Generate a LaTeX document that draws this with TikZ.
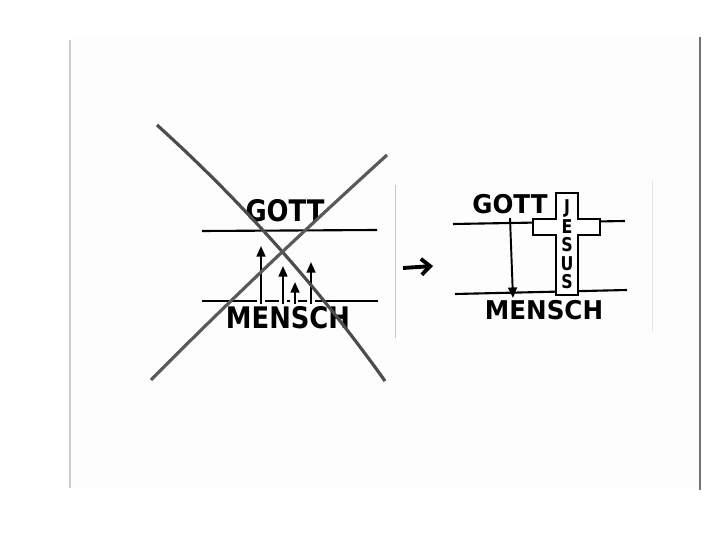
\documentclass[tikz,border=0pt]{standalone}
\usepackage{fontspec}
\setmainfont{DejaVu Sans}
\usetikzlibrary{arrows,arrows.meta}

\begin{document}
\begin{tikzpicture}[x=0.02cm,y=-0.02cm]
\tikzset{word/.style = {inner sep=0pt,font=\bfseries\fontsize{14.7pt}{14.7pt}\selectfont}}
\tikzset{wordr/.style = {inner sep=0pt,font=\bfseries\fontsize{14pt}{14pt}\selectfont}}
\tikzset{letter/.style = {inner sep=0pt,font=\bfseries\fontsize{9pt}{9pt}\selectfont}}
\tikzset{bar/.style = {line width=1.2pt}}
\tikzset{up/.style = {-{Triangle[length=6pt,width=5pt]},line width=1.1pt}}
\tikzset{edge/.style = {draw=black!22,line width=0.5pt}}
\useasboundingbox (0,0) rectangle (720,540);
\fill[white] (0,0) rectangle (720,540);
% page
\fill[black!0.6] (70,37) rectangle (700,488);
\draw[black!55,line width=0.8pt] (700,37) -- (700,490);
\draw[black!20,line width=0.6pt] (70,40) -- (70,488);
\draw[edge] (395,185) -- (395,338);
\draw[edge,draw=black!10] (652,180) -- (652,332);
% left picture
\node[word](gottl) at (285,211) {\scalebox{1}[1.15]{GOTT}};
\node[word](menschl) at (288,318) {\scalebox{1}[1.15]{MENSCH}};
\draw[bar] (202,231) -- (377,230);
\draw[bar] (202,301) -- (257,301);
\draw[bar] (265,301) -- (279,301);
\draw[bar] (287,301) -- (290,301);
\draw[bar] (298,301) -- (307,301);
\draw[bar] (315,301) -- (378,301);
\coordinate (b1) at (261,304);
\coordinate (t1) at (261,246);
\coordinate (b2) at (283,304);
\coordinate (t2) at (283,266);
\coordinate (b3) at (295,304);
\coordinate (t3) at (295,282);
\coordinate (b4) at (311,304);
\coordinate (t4) at (311,262);
\draw[up] (b1) -- (t1);
\draw[up] (b2) -- (t2);
\draw[up] (b3) -- (t3);
\draw[up] (b4) -- (t4);
% crossed out
\coordinate (x1) at (157,125);
\coordinate (x2) at (385,381);
\coordinate (x3) at (387,155);
\coordinate (x4) at (151,380);
\draw[black!70,line width=1.8pt] (x1) .. controls (242,202) and (318,287) .. (x2);
\draw[black!65,line width=1.8pt] (x3) .. controls (310,225) and (230,300) .. (x4);
% small arrow
\coordinate (p1) at (403,268);
\coordinate (p2) at (433,266);
\draw[-{Straight Barb[length=5pt,width=9pt]},line width=2.2pt] (p1) -- (p2);
% right picture
\node[wordr](gottr) at (510,204) {\scalebox{1}[1.05]{GOTT}};
\node[wordr](menschr) at (544,310) {\scalebox{1}[1.05]{MENSCH}};
\draw[bar] (453,224) -- (625,221);
\draw[bar] (455,294) -- (627,290);
\coordinate (d1) at (510,218);
\coordinate (d2) at (513,298);
\draw[up] (d1) -- (d2);
\draw[bar,fill=white] (556,193) -- (578,193) -- (578,219) -- (600,219) -- (600,235)
  -- (578,235) -- (578,295) -- (556,295) -- (556,235) -- (533,235) -- (533,219)
  -- (556,219) -- cycle;
\foreach \l [count=\i] in {J,E,S,U,S}
  \node[letter](j\i) at (567,189.5+\i*18.5) {\scalebox{1}[1.2]{\l}};
\end{tikzpicture}
\end{document}
